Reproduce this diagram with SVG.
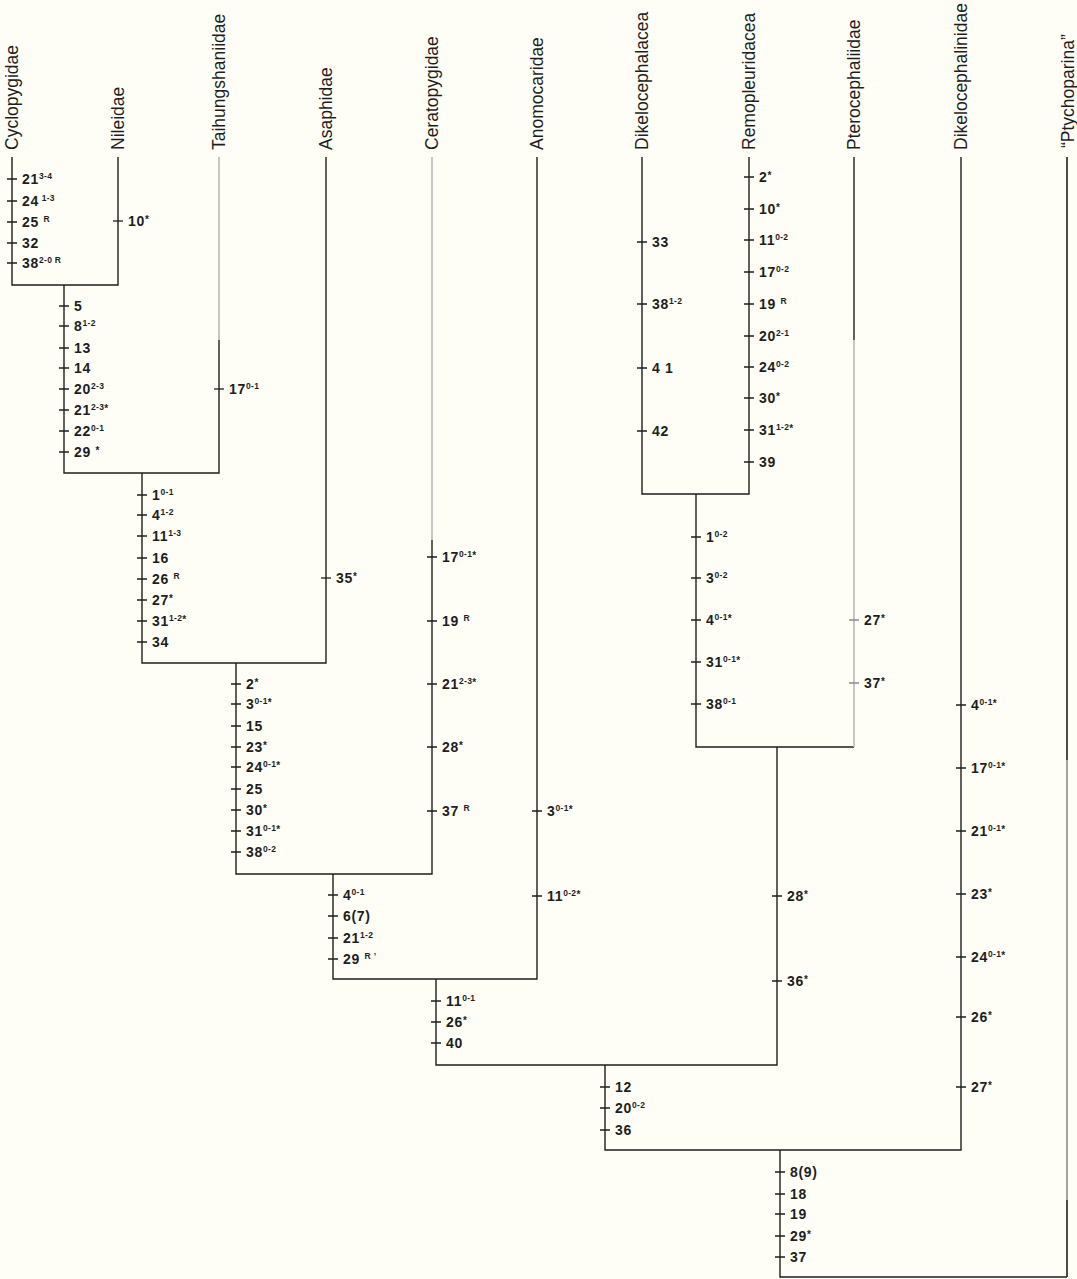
<svg xmlns="http://www.w3.org/2000/svg" width="1077" height="1279" viewBox="0 0 1077 1279">
<style>
.c{stroke:#1e1e1e;stroke-width:1.4;fill:none}
.g{stroke:#b9b9b9;stroke-width:1.6;fill:none}
.k{stroke:#1e1e1e;stroke-width:1.3;fill:none}
.n{font-family:"Liberation Sans",Arial,sans-serif;font-weight:bold;font-size:14px;fill:#1e1e1e;letter-spacing:0.7px}
.s{font-size:8.5px;letter-spacing:0.3px}
.a{font-size:10px}
.lab{font-family:"Liberation Sans",Arial,sans-serif;font-size:17.5px;fill:#1e1e1e}
</style>
<rect width="1077" height="1279" fill="#fefef6"/>
<g id="connectors">
<path class="c" d="M12 157V285H118V157M64 285V473H219V340M142 473V663H326V157M236 663V874H432V540M333 874V979H537V157M436 979V1065H777V747M642 157V494H749V157M696 494V747H854M854 157V340M605 1065V1150H961V157M780 1150V1277H1067"/>
<line x1="1067" y1="157" x2="1067" y2="1277" stroke="#1e1e1e" stroke-width="1.6"/>
<path class="g" d="M219 157V340M432 157V540M854 340V747M1067 760V1200"/>
</g>
<g id="taxon-cyclopygidae"><text class="lab" transform="translate(18,150) rotate(-90)">Cyclopygidae</text></g>
<g id="taxon-nileidae"><text class="lab" transform="translate(124,150) rotate(-90)">Nileidae</text></g>
<g id="taxon-taihungshaniidae"><text class="lab" transform="translate(225,150) rotate(-90)">Taihungshaniidae</text></g>
<g id="taxon-asaphidae"><text class="lab" transform="translate(332,150) rotate(-90)">Asaphidae</text></g>
<g id="taxon-ceratopygidae"><text class="lab" transform="translate(438,150) rotate(-90)">Ceratopygidae</text></g>
<g id="taxon-anomocaridae"><text class="lab" transform="translate(543,150) rotate(-90)">Anomocaridae</text></g>
<g id="taxon-dikelocephalacea"><text class="lab" transform="translate(648,150) rotate(-90)">Dikelocephalacea</text></g>
<g id="taxon-remopleuridacea"><text class="lab" transform="translate(755,150) rotate(-90)">Remopleuridacea</text></g>
<g id="taxon-pterocephaliidae"><text class="lab" transform="translate(860,150) rotate(-90)">Pterocephaliidae</text></g>
<g id="taxon-dikelocephalinidae"><text class="lab" transform="translate(967,150) rotate(-90)">Dikelocephalinidae</text></g>
<g id="taxon-ptychoparina"><text class="lab" transform="translate(1074,148) rotate(-90)">“Ptychoparina”</text></g>

<g id="chars-cyclopygidae">
<path class="k" d="M7 179h10M7 201h10M7 222h10M7 243h10M7 263h10"/>
<text class="n" x="22" y="184">21<tspan class="s" dy="-5">3-4</tspan></text>
<text class="n" x="22" y="206">24<tspan class="s" dy="-5"> 1-3</tspan></text>
<text class="n" x="22" y="227">25 <tspan class="s" dy="-5">R</tspan></text>
<text class="n" x="22" y="248">32</text>
<text class="n" x="22" y="268">38<tspan class="s" dy="-5">2-0 R</tspan></text>
</g>
<g id="chars-nileidae">
<path class="k" d="M113 221h10"/>
<text class="n" x="128" y="226">10<tspan class="a" dy="-3">*</tspan></text>
</g>
<g id="chars-node-cyc-nil">
<path class="k" d="M59 306h10M59 326h10M59 348h10M59 368h10M59 389h10M59 410h10M59 431h10M59 452h10"/>
<text class="n" x="74" y="311">5</text>
<text class="n" x="74" y="331">8<tspan class="s" dy="-5">1-2</tspan></text>
<text class="n" x="74" y="353">13</text>
<text class="n" x="74" y="373">14</text>
<text class="n" x="74" y="394">20<tspan class="s" dy="-5">2-3</tspan></text>
<text class="n" x="74" y="415">21<tspan class="s" dy="-5">2-3</tspan><tspan class="a" dy="2">*</tspan></text>
<text class="n" x="74" y="436">22<tspan class="s" dy="-5">0-1</tspan></text>
<text class="n" x="74" y="457">29 <tspan class="a" dy="-3">*</tspan></text>
</g>
<g id="chars-taihungshaniidae">
<path class="k" d="M214 389h10"/>
<text class="n" x="229" y="394">17<tspan class="s" dy="-5">0-1</tspan></text>
</g>
<g id="chars-node-142">
<path class="k" d="M137 495h10M137 515h10M137 536h10M137 558h10M137 579h10M137 600h10M137 621h10M137 642h10"/>
<text class="n" x="152" y="500">1<tspan class="s" dy="-5">0-1</tspan></text>
<text class="n" x="152" y="520">4<tspan class="s" dy="-5">1-2</tspan></text>
<text class="n" x="152" y="541">11<tspan class="s" dy="-5">1-3</tspan></text>
<text class="n" x="152" y="563">16</text>
<text class="n" x="152" y="584">26 <tspan class="s" dy="-5">R</tspan></text>
<text class="n" x="152" y="605">27<tspan class="a" dy="-3">*</tspan></text>
<text class="n" x="152" y="626">31<tspan class="s" dy="-5">1-2</tspan><tspan class="a" dy="2">*</tspan></text>
<text class="n" x="152" y="647">34</text>
</g>
<g id="chars-asaphidae">
<path class="k" d="M321 578h10"/>
<text class="n" x="336" y="583">35<tspan class="a" dy="-3">*</tspan></text>
</g>
<g id="chars-node-236">
<path class="k" d="M231 684h10M231 704h10M231 726h10M231 747h10M231 767h10M231 789h10M231 810h10M231 831h10M231 852h10"/>
<text class="n" x="246" y="689">2<tspan class="a" dy="-3">*</tspan></text>
<text class="n" x="246" y="709">3<tspan class="s" dy="-5">0-1</tspan><tspan class="a" dy="2">*</tspan></text>
<text class="n" x="246" y="731">15</text>
<text class="n" x="246" y="752">23<tspan class="a" dy="-3">*</tspan></text>
<text class="n" x="246" y="772">24<tspan class="s" dy="-5">0-1</tspan><tspan class="a" dy="2">*</tspan></text>
<text class="n" x="246" y="794">25</text>
<text class="n" x="246" y="815">30<tspan class="a" dy="-3">*</tspan></text>
<text class="n" x="246" y="836">31<tspan class="s" dy="-5">0-1</tspan><tspan class="a" dy="2">*</tspan></text>
<text class="n" x="246" y="857">38<tspan class="s" dy="-5">0-2</tspan></text>
</g>
<g id="chars-ceratopygidae">
<path class="k" d="M427 557h10M427 621h10M427 684h10M427 747h10M427 811h10"/>
<text class="n" x="442" y="562">17<tspan class="s" dy="-5">0-1</tspan><tspan class="a" dy="2">*</tspan></text>
<text class="n" x="442" y="626">19 <tspan class="s" dy="-5">R</tspan></text>
<text class="n" x="442" y="689">21<tspan class="s" dy="-5">2-3</tspan><tspan class="a" dy="2">*</tspan></text>
<text class="n" x="442" y="752">28<tspan class="a" dy="-3">*</tspan></text>
<text class="n" x="442" y="816">37 <tspan class="s" dy="-5">R</tspan></text>
</g>
<g id="chars-anomocaridae">
<path class="k" d="M532 811h10M532 896h10"/>
<text class="n" x="547" y="816">3<tspan class="s" dy="-5">0-1</tspan><tspan class="a" dy="2">*</tspan></text>
<text class="n" x="547" y="901">11<tspan class="s" dy="-5">0-2</tspan><tspan class="a" dy="2">*</tspan></text>
</g>
<g id="chars-node-333">
<path class="k" d="M328 895h10M328 916h10M328 938h10M328 959h10"/>
<text class="n" x="343" y="900">4<tspan class="s" dy="-5">0-1</tspan></text>
<text class="n" x="343" y="921">6(7)</text>
<text class="n" x="343" y="943">21<tspan class="s" dy="-5">1-2</tspan></text>
<text class="n" x="343" y="964">29 <tspan class="s" dy="-5">R  ʼ</tspan></text>
</g>
<g id="chars-node-436">
<path class="k" d="M431 1001h10M431 1022h10M431 1043h10"/>
<text class="n" x="446" y="1006">11<tspan class="s" dy="-5">0-1</tspan></text>
<text class="n" x="446" y="1027">26<tspan class="a" dy="-3">*</tspan></text>
<text class="n" x="446" y="1048">40</text>
</g>
<g id="chars-dikelocephalacea">
<path class="k" d="M637 242h10M637 304h10M637 368h10M637 431h10"/>
<text class="n" x="652" y="247">33</text>
<text class="n" x="652" y="309">38<tspan class="s" dy="-5">1-2</tspan></text>
<text class="n" x="652" y="373">4 1</text>
<text class="n" x="652" y="436">42</text>
</g>
<g id="chars-remopleuridacea">
<path class="k" d="M744 177h10M744 209h10M744 240h10M744 272h10M744 304h10M744 336h10M744 367h10M744 398h10M744 430h10M744 462h10"/>
<text class="n" x="759" y="182">2<tspan class="a" dy="-3">*</tspan></text>
<text class="n" x="759" y="214">10<tspan class="a" dy="-3">*</tspan></text>
<text class="n" x="759" y="245">11<tspan class="s" dy="-5">0-2</tspan></text>
<text class="n" x="759" y="277">17<tspan class="s" dy="-5">0-2</tspan></text>
<text class="n" x="759" y="309">19 <tspan class="s" dy="-5">R</tspan></text>
<text class="n" x="759" y="341">20<tspan class="s" dy="-5">2-1</tspan></text>
<text class="n" x="759" y="372">24<tspan class="s" dy="-5">0-2</tspan></text>
<text class="n" x="759" y="403">30<tspan class="a" dy="-3">*</tspan></text>
<text class="n" x="759" y="435">31<tspan class="s" dy="-5">1-2</tspan><tspan class="a" dy="2">*</tspan></text>
<text class="n" x="759" y="467">39</text>
</g>
<g id="chars-node-696">
<path class="k" d="M691 537h10M691 578h10M691 620h10M691 662h10M691 704h10"/>
<text class="n" x="706" y="542">1<tspan class="s" dy="-5">0-2</tspan></text>
<text class="n" x="706" y="583">3<tspan class="s" dy="-5">0-2</tspan></text>
<text class="n" x="706" y="625">4<tspan class="s" dy="-5">0-1</tspan><tspan class="a" dy="2">*</tspan></text>
<text class="n" x="706" y="667">31<tspan class="s" dy="-5">0-1</tspan><tspan class="a" dy="2">*</tspan></text>
<text class="n" x="706" y="709">38<tspan class="s" dy="-5">0-1</tspan></text>
</g>
<g id="chars-pterocephaliidae">
<path class="k" d="M849 620h10M849 683h10" style="stroke:#8a8a8a"/>
<text class="n" x="864" y="625">27<tspan class="a" dy="-3">*</tspan></text>
<text class="n" x="864" y="688">37<tspan class="a" dy="-3">*</tspan></text>
</g>
<g id="chars-node-777">
<path class="k" d="M772 896h10M772 981h10"/>
<text class="n" x="787" y="901">28<tspan class="a" dy="-3">*</tspan></text>
<text class="n" x="787" y="986">36<tspan class="a" dy="-3">*</tspan></text>
</g>
<g id="chars-dikelocephalinidae">
<path class="k" d="M956 705h10M956 768h10M956 831h10M956 894h10M956 957h10M956 1017h10M956 1087h10"/>
<text class="n" x="971" y="710">4<tspan class="s" dy="-5">0-1</tspan><tspan class="a" dy="2">*</tspan></text>
<text class="n" x="971" y="773">17<tspan class="s" dy="-5">0-1</tspan><tspan class="a" dy="2">*</tspan></text>
<text class="n" x="971" y="836">21<tspan class="s" dy="-5">0-1</tspan><tspan class="a" dy="2">*</tspan></text>
<text class="n" x="971" y="899">23<tspan class="a" dy="-3">*</tspan></text>
<text class="n" x="971" y="962">24<tspan class="s" dy="-5">0-1</tspan><tspan class="a" dy="2">*</tspan></text>
<text class="n" x="971" y="1022">26<tspan class="a" dy="-3">*</tspan></text>
<text class="n" x="971" y="1092">27<tspan class="a" dy="-3">*</tspan></text>
</g>
<g id="chars-node-605">
<path class="k" d="M600 1087h10M600 1108h10M600 1130h10"/>
<text class="n" x="615" y="1092">12</text>
<text class="n" x="615" y="1113">20<tspan class="s" dy="-5">0-2</tspan></text>
<text class="n" x="615" y="1135">36</text>
</g>
<g id="chars-node-780">
<path class="k" d="M775 1172h10M775 1194h10M775 1214h10M775 1236h10M775 1257h10"/>
<text class="n" x="790" y="1177">8(9)</text>
<text class="n" x="790" y="1199">18</text>
<text class="n" x="790" y="1219">19</text>
<text class="n" x="790" y="1241">29<tspan class="a" dy="-3">*</tspan></text>
<text class="n" x="790" y="1262">37</text>
</g>
</svg>
